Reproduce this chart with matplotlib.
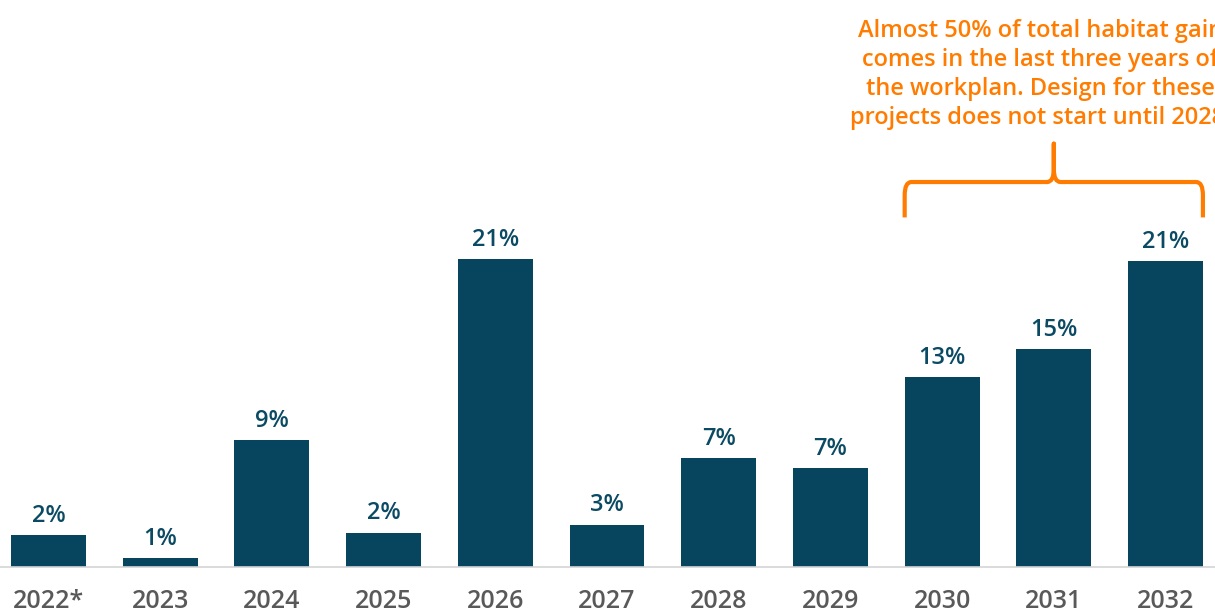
import numpy as np
import matplotlib.pyplot as plt
from matplotlib.path import Path
from matplotlib.patches import PathPatch

years = ['2022*', '2023', '2024', '2025', '2026', '2027', '2028', '2029', '2030', '2031', '2032']
share = [2.19, 0.63, 8.59, 2.33, 20.9, 2.87, 7.41, 6.71, 12.88, 14.78, 20.72]
labels = ['2%', '1%', '9%', '2%', '21%', '3%', '7%', '7%', '13%', '15%', '21%']
note = ('Almost 50% of total habitat gain\n'
        'comes in the last three years of\n'
        'the workplan. Design for these\n'
        'projects does not start until 2028.')

bar_color = '#06455d'
orange = '#ff7c00'
grey = '#595959'

plt.rcParams['font.family'] = ['Open Sans', 'DejaVu Sans']

fig = plt.figure(figsize=(12.15, 6.16), dpi=100)
ax = fig.add_axes([0, 49 / 616, 1, 567 / 616])

x = np.arange(len(years))
w = 0.67
bars = ax.bar(x, share, width=w, color=bar_color, zorder=2)

for xi, v, lab in zip(x, share, labels):
    ax.annotate(lab, (xi, v), xytext=(0, 9.5), textcoords='offset points',
                ha='center', va='baseline', fontsize=17, fontweight='semibold',
                color='#0b4a63')

ax.set_xlim(-48.5 / 111.7, (1215 - 48.5) / 111.7)
ax.set_ylim(0, 567 / 14.75)
ax.set_xticks(x)
ax.set_xticklabels(years, fontsize=18, fontweight='semibold', color=grey)
ax.tick_params(axis='x', length=0, pad=16)
ax.set_yticks([])
for s in ['top', 'right', 'left']:
    ax.spines[s].set_visible(False)
ax.spines['bottom'].set_color('#d4d4d4')
ax.spines['bottom'].set_linewidth(1.2)

# curly bracket over the last three bars
left = x[8] - w / 2
right = x[10] + w / 2
mid = (left + right) / 2
yb, yh, yt = 23.7, 26.1, 28.7
dx, dy = 0.06, 0.9
verts = [(left, yb), (left, yh - dy), (left, yh), (left + dx, yh),
         (mid - dx, yh), (mid, yh), (mid, yh + dy),
         (mid, yt), (mid, yh + dy),
         (mid, yh), (mid + dx, yh),
         (right - dx, yh), (right, yh), (right, yh - dy), (right, yb)]
codes = [Path.MOVETO, Path.LINETO, Path.CURVE3, Path.CURVE3,
         Path.LINETO, Path.CURVE3, Path.CURVE3,
         Path.LINETO, Path.LINETO,
         Path.CURVE3, Path.CURVE3,
         Path.LINETO, Path.CURVE3, Path.CURVE3, Path.LINETO]
ax.add_patch(PathPatch(Path(verts, codes), fill=False, edgecolor=orange,
                       linewidth=3, capstyle='butt', joinstyle='round', clip_on=False))

ax.text(mid - 0.12, 29.6, note, ha='center', va='bottom', fontsize=17, fontweight='semibold',
        color=orange, linespacing=1.28)

fig.savefig('out.png', dpi=100)
